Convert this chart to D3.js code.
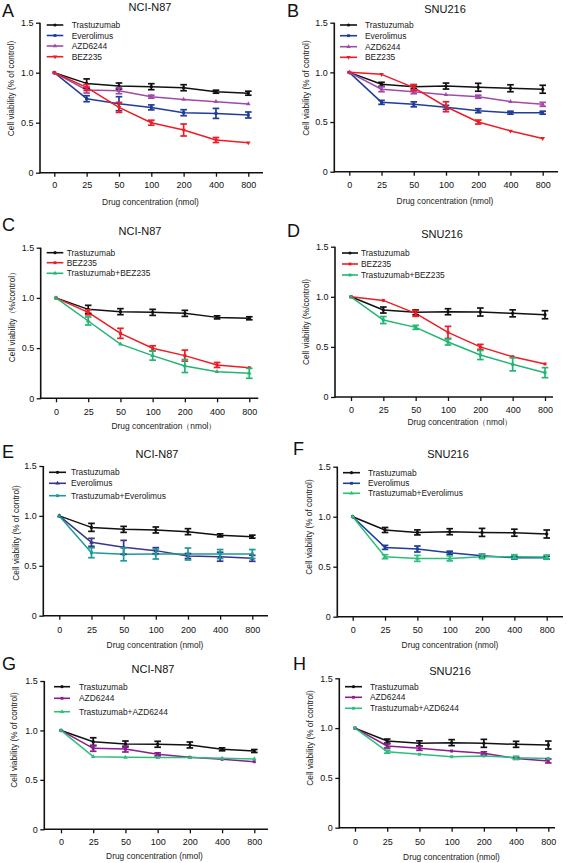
<!DOCTYPE html>
<html><head><meta charset="utf-8">
<script src="https://cdn.jsdelivr.net/npm/d3@7"></script>
<style>
html,body{margin:0;padding:0;background:#fff;}
svg{display:block;font-family:"Liberation Sans",Arial,Helvetica,sans-serif;}
</style></head>
<body><svg id="chart" width="567" height="863"></svg>
<script>
// ---------- DATA ----------
const concentrations = ["0","25","50","100","200","400","800"];
const yTicks = [0, 0.5, 1.0, 1.5];
const yTickLabels = ["0","0.5","1.0","1.5"];
const panelLetters = ["A","B","C","D","E","F","G","H"];
const panelTitles = ["NCI-N87","SNU216","NCI-N87","SNU216","NCI-N87","SNU216","NCI-N87","SNU216"];
const xTitles = ["Drug concentration (nmol)","Drug concentration (nmol)","Drug concentration（nmol）","Drug concentration（nmol）",
  "Drug concentration (nmol)","Drug concentration (nmol)","Drug concentration (nmol)","Drug concentration (nmol)"];
const yTitles = ["Cell viability (% of control)","Cell viability (% of control)","Cell viability（%/control）","Cell viability (%/control)",
  "Cell viability (% of control)","Cell viability (% of control)","Cell viability (% of control)","Cell viability (% of control)"];

// Panel A (NCI-N87)
const A_tras = [1, 0.893, 0.867, 0.86, 0.85, 0.81, 0.795];
const A_trasErr = [0, 0.045, 0.03, 0.03, 0.03, 0.015, 0.02];
const A_eve = [1, 0.74, 0.69, 0.653, 0.6, 0.593, 0.577];
const A_eveErr = [0, 0.03, 0.07, 0.025, 0.03, 0.05, 0.03];
const A_azd = [1, 0.827, 0.82, 0.76, 0.733, 0.71, 0.687];
const A_azdErr = [0, 0.03, 0.03, 0.015, 0, 0, 0];
const A_bez = [1, 0.853, 0.653, 0.5, 0.427, 0.327, 0.3];
const A_bezErr = [0, 0.03, 0.05, 0.025, 0.06, 0.025, 0];
// Panel B (SNU216)
const B_tras = [1, 0.88, 0.856, 0.862, 0.85, 0.84, 0.83];
const B_trasErr = [0, 0.02, 0.02, 0.03, 0.04, 0.035, 0.04];
const B_eve = [1, 0.698, 0.678, 0.648, 0.614, 0.594, 0.594];
const B_eveErr = [0, 0.02, 0.025, 0.02, 0.02, 0.015, 0.015];
const B_azd = [1, 0.83, 0.805, 0.775, 0.755, 0.705, 0.678];
const B_azdErr = [0, 0.025, 0.02, 0, 0.015, 0, 0.02];
const B_bez = [1, 0.98, 0.846, 0.654, 0.5, 0.41, 0.335];
const B_bezErr = [0, 0, 0.03, 0.05, 0.02, 0, 0];
// Panel C
const C_tras = [1, 0.886, 0.863, 0.856, 0.846, 0.806, 0.797];
const C_trasErr = [0, 0.04, 0.03, 0.03, 0.03, 0.015, 0.015];
const C_bez = [1, 0.856, 0.647, 0.498, 0.425, 0.332, 0.305];
const C_bezErr = [0, 0.025, 0.05, 0.025, 0.055, 0.025, 0];
const C_combo = [1, 0.77, 0.54, 0.425, 0.322, 0.265, 0.249];
const C_comboErr = [0, 0.04, 0, 0.045, 0.065, 0, 0.05];
// Panel D
const D_tras = [1, 0.868, 0.845, 0.851, 0.848, 0.835, 0.821];
const D_trasErr = [0, 0.03, 0.025, 0.03, 0.04, 0.035, 0.04];
const D_bez = [1, 0.964, 0.835, 0.645, 0.5, 0.402, 0.33];
const D_bezErr = [0, 0, 0.03, 0.06, 0.025, 0, 0];
const D_combo = [1, 0.768, 0.695, 0.549, 0.419, 0.326, 0.243];
const D_comboErr = [0, 0.035, 0.02, 0.03, 0.045, 0.065, 0.05];
// Panel E
const E_tras = [1, 0.885, 0.865, 0.859, 0.842, 0.805, 0.792];
const E_trasErr = [0, 0.04, 0.03, 0.03, 0.03, 0.015, 0.015];
const E_eve = [1, 0.735, 0.685, 0.652, 0.598, 0.591, 0.575];
const E_eveErr = [0, 0.04, 0.07, 0.03, 0.025, 0.045, 0.03];
const E_combo = [1, 0.631, 0.615, 0.618, 0.618, 0.618, 0.618];
const E_comboErr = [0, 0.05, 0.065, 0.05, 0.06, 0.045, 0.045];
// Panel F
const F_tras = [1, 0.867, 0.843, 0.85, 0.843, 0.84, 0.827];
const F_trasErr = [0, 0.025, 0.025, 0.03, 0.04, 0.035, 0.04];
const F_eve = [1, 0.693, 0.677, 0.64, 0.61, 0.59, 0.59];
const F_eveErr = [0, 0.02, 0.03, 0.015, 0.015, 0.015, 0.015];
const F_combo = [1, 0.6, 0.583, 0.583, 0.6, 0.6, 0.597];
const F_comboErr = [0, 0.02, 0.03, 0.025, 0.02, 0.02, 0.02];
// Panel G
const G_tras = [1, 0.886, 0.863, 0.86, 0.853, 0.809, 0.792];
const G_trasErr = [0, 0.04, 0.03, 0.03, 0.03, 0.015, 0.015];
const G_azd = [1, 0.819, 0.812, 0.758, 0.728, 0.708, 0.684];
const G_azdErr = [0, 0.03, 0.03, 0.015, 0, 0, 0];
const G_combo = [1, 0.735, 0.728, 0.725, 0.725, 0.718, 0.711];
const G_comboErr = [0, 0, 0, 0, 0, 0, 0];
// Panel H
const H_tras = [1, 0.87, 0.847, 0.854, 0.847, 0.837, 0.83];
const H_trasErr = [0, 0.02, 0.025, 0.03, 0.04, 0.03, 0.04];
const H_azd = [1, 0.82, 0.797, 0.77, 0.747, 0.696, 0.67];
const H_azdErr = [0, 0.02, 0.02, 0, 0.015, 0.01, 0.02];
const H_combo = [1, 0.763, 0.737, 0.713, 0.72, 0.703, 0.696];
const H_comboErr = [0, 0.015, 0, 0, 0, 0.015, 0];

// ---------- STYLE / LAYOUT ----------
const COL = {
  black:"#111111", blue:"#1f3d99", navy:"#3b3488", purpleA:"#a24aa8", purple:"#8c1d8c",
  red:"#ee1c25", green:"#22b573", teal:"#1a9a98", green2:"#2cbf7c"
};
const SYM = {dot:d3.symbolCircle, sq:d3.symbolSquare, tri:d3.symbolTriangle, tri2:d3.symbolTriangle};

const panels = [
  {L:{ax:40, y0:172.7, y15:22.7, x0:54.3, x1:248.3, xEnd:263, tickY:188, xtY:205, xtX:150.5, ytX:11, ytY:88.5,
      lx:2, ly:17, tX:150, tY:11, lg0:46.7, lg1:63.3, lgT:71.7, rows:[25,35.5,46,56.7]},
   S:[{n:"Trastuzumab",v:A_tras,e:A_trasErr,c:COL.black,s:"dot"},
      {n:"Everolimus",v:A_eve,e:A_eveErr,c:COL.blue,s:"sq"},
      {n:"AZD6244",v:A_azd,e:A_azdErr,c:COL.purpleA,s:"tri"},
      {n:"BEZ235",v:A_bez,e:A_bezErr,c:COL.red,s:"tri2"}]},
  {L:{ax:334.3, y0:171.7, y15:22.7, x0:349.3, x1:542.7, xEnd:558, tickY:188, xtY:204, xtX:445, ytX:306, ytY:88,
      lx:287, ly:17, tX:445, tY:12.5, lg0:340, lg1:357, lgT:365, rows:[25,35.7,46.7,57.3]},
   S:[{n:"Trastuzumab",v:B_tras,e:B_trasErr,c:COL.black,s:"dot"},
      {n:"Everolimus",v:B_eve,e:B_eveErr,c:COL.blue,s:"sq"},
      {n:"AZD6244",v:B_azd,e:B_azdErr,c:COL.purpleA,s:"tri"},
      {n:"BEZ235",v:B_bez,e:B_bezErr,c:COL.red,s:"tri2"}]},
  {L:{ax:40.7, y0:398.3, y15:247.7, x0:56, x1:249.3, xEnd:258.3, tickY:415, xtY:428.5, xtX:164, ytX:12, ytY:315,
      lx:2, ly:231, tX:140, tY:235, lg0:46.7, lg1:63.3, lgT:66.7, rows:[252.7,262.7,273.3]},
   S:[{n:"Trastuzumab",v:C_tras,e:C_trasErr,c:COL.black,s:"dot"},
      {n:"BEZ235",v:C_bez,e:C_bezErr,c:COL.red,s:"sq"},
      {n:"Trastuzumab+BEZ235",v:C_combo,e:C_comboErr,c:COL.green,s:"tri"}]},
  {L:{ax:335, y0:397, y15:246.7, x0:351, x1:545, xEnd:553, tickY:413.5, xtY:424.5, xtX:460, ytX:305.5, ytY:322,
      lx:287, ly:237, tX:442, tY:238, lg0:342, lg1:358, lgT:361, rows:[253,264,275]},
   S:[{n:"Trastuzumab",v:D_tras,e:D_trasErr,c:COL.black,s:"dot"},
      {n:"BEZ235",v:D_bez,e:D_bezErr,c:COL.red,s:"sq"},
      {n:"Trastuzumab+BEZ235",v:D_combo,e:D_comboErr,c:COL.green,s:"sq"}]},
  {L:{ax:43.3, y0:615.7, y15:466, x0:59.3, x1:252.3, xEnd:268, tickY:633, xtY:648, xtX:155, ytX:16, ytY:533,
      lx:2, ly:458, tX:157, tY:458, lg0:49, lg1:66, lgT:71, rows:[472.3,483.3,495.7]},
   S:[{n:"Trastuzumab",v:E_tras,e:E_trasErr,c:COL.black,s:"dot"},
      {n:"Everolimus",v:E_eve,e:E_eveErr,c:COL.navy,s:"tri"},
      {n:"Trastuzumab+Everolimus",v:E_combo,e:E_comboErr,c:COL.teal,s:"sq"}]},
  {L:{ax:337.3, y0:616.7, y15:466.7, x0:352.7, x1:546.7, xEnd:563, tickY:633, xtY:648, xtX:450, ytX:309, ytY:527,
      lx:293, ly:455, tX:448, tY:458, lg0:343, lg1:360, lgT:368, rows:[472.7,483.3,493.3]},
   S:[{n:"Trastuzumab",v:F_tras,e:F_trasErr,c:COL.black,s:"dot"},
      {n:"Everolimus",v:F_eve,e:F_eveErr,c:COL.blue,s:"sq"},
      {n:"Trastuzumab+Everolimus",v:F_combo,e:F_comboErr,c:COL.green2,s:"tri"}]},
  {L:{ax:44.3, y0:829.3, y15:681, x0:61, x1:254.3, xEnd:268, tickY:845, xtY:859, xtX:154.5, ytX:14, ytY:740,
      lx:2, ly:670, tX:153, tY:673, lg0:54, lg1:70, lgT:79, rows:[686.7,698.3,711.7]},
   S:[{n:"Trastuzumab",v:G_tras,e:G_trasErr,c:COL.black,s:"dot"},
      {n:"AZD6244",v:G_azd,e:G_azdErr,c:COL.purple,s:"sq"},
      {n:"Trastuzumab+AZD6244",v:G_combo,e:G_comboErr,c:COL.green2,s:"tri"}]},
  {L:{ax:339.3, y0:827.7, y15:678.3, x0:355, x1:548.3, xEnd:555, tickY:845, xtY:860, xtX:451.5, ytX:310, ytY:738,
      lx:293, ly:670, tX:450, tY:675, lg0:345, lg1:362, lgT:370, rows:[686.7,697.3,708.3]},
   S:[{n:"Trastuzumab",v:H_tras,e:H_trasErr,c:COL.black,s:"dot"},
      {n:"AZD6244",v:H_azd,e:H_azdErr,c:COL.purple,s:"sq"},
      {n:"Trastuzumab+AZD6244",v:H_combo,e:H_comboErr,c:COL.green2,s:"sq"}]}
];

const svg = d3.select("#chart");

panels.forEach((p, i) => {
  const L = p.L;
  const g = svg.append("g");
  const x = d3.scalePoint().domain(concentrations).range([L.x0, L.x1]);
  const y = d3.scaleLinear().domain([0, 1.5]).range([L.y0, L.y15]);

  // axes
  const yAx = g.append("g").attr("transform", `translate(${L.ax},0)`)
    .call(d3.axisLeft(y).tickValues(yTicks).tickFormat((d, k) => yTickLabels[k]).tickSize(4).tickPadding(2.5).tickSizeOuter(0));
  const xAx = g.append("g").attr("transform", `translate(0,${L.y0})`)
    .call(d3.axisBottom(x).tickSize(4).tickPadding(L.tickY - L.y0 - 10.5).tickSizeOuter(0));
  [yAx, xAx].forEach(a => {
    a.select(".domain").remove();
    a.selectAll(".tick line").attr("stroke", "#111").attr("stroke-width", 1.3);
    a.selectAll(".tick text").attr("fill", "#111").style("font-size", "9px")
      .style("font-family", '"Liberation Sans",Arial,sans-serif');
  });
  g.append("line").attr("x1", L.ax).attr("x2", L.ax).attr("y1", y(0) + 0.8).attr("y2", y(1.5))
    .attr("stroke", "#111").attr("stroke-width", 1.6);
  g.append("line").attr("x1", L.ax).attr("x2", L.xEnd).attr("y1", y(0)).attr("y2", y(0))
    .attr("stroke", "#111").attr("stroke-width", 1.6);

  // titles
  g.append("text").attr("x", L.lx).attr("y", L.ly).text(panelLetters[i])
    .style("font-size", "18px").attr("fill", "#111");
  g.append("text").attr("x", L.tX).attr("y", L.tY).attr("text-anchor", "middle").text(panelTitles[i])
    .style("font-size", "11px").attr("fill", "#111");
  g.append("text").attr("x", L.xtX).attr("y", L.xtY).attr("text-anchor", "middle").text(xTitles[i])
    .style("font-size", "8.4px").attr("fill", "#222");
  g.append("text").attr("transform", `translate(${L.ytX},${L.ytY}) rotate(-90)`)
    .attr("text-anchor", "middle").attr("dominant-baseline", "central").text(yTitles[i])
    .style("font-size", "8.3px").attr("fill", "#222");

  // series lines
  const line = d3.line().x((d, k) => x(concentrations[k])).y(d => y(d));
  p.S.forEach(s => {
    g.append("path").datum(s.v).attr("d", line).attr("fill", "none")
      .attr("stroke", s.c).attr("stroke-width", 1.5).attr("stroke-linejoin", "round");
  });
  // error bars + markers
  p.S.forEach(s => {
    const eg = g.append("g").attr("stroke", s.c).attr("stroke-width", 1.7).attr("fill", "none");
    s.v.forEach((v, k) => {
      const e = s.e[k];
      if (!e) return;
      const cx = x(concentrations[k]);
      eg.append("line").attr("x1", cx).attr("x2", cx).attr("y1", y(v - e)).attr("y2", y(v + e));
      eg.append("line").attr("x1", cx - 3.3).attr("x2", cx + 3.3).attr("y1", y(v - e)).attr("y2", y(v - e));
      eg.append("line").attr("x1", cx - 3.3).attr("x2", cx + 3.3).attr("y1", y(v + e)).attr("y2", y(v + e));
    });
    const sym = d3.symbol().type(SYM[s.s]).size(9);
    g.append("g").selectAll("path").data(s.v).join("path")
      .attr("transform", (d, k) => `translate(${x(concentrations[k])},${y(d)})${s.s === "tri2" ? " rotate(180)" : ""}`)
      .attr("d", sym).attr("fill", s.c);
  });

  // legend
  p.S.forEach((s, k) => {
    const ry = L.rows[k];
    g.append("line").attr("x1", L.lg0).attr("x2", L.lg1).attr("y1", ry).attr("y2", ry)
      .attr("stroke", s.c).attr("stroke-width", 1.6);
    g.append("path").attr("transform", `translate(${(L.lg0 + L.lg1) / 2},${ry})${s.s === "tri2" ? " rotate(180)" : ""}`)
      .attr("d", d3.symbol().type(SYM[s.s]).size(8)).attr("fill", s.c);
    g.append("text").attr("x", L.lgT).attr("y", ry).attr("dominant-baseline", "central")
      .text(s.n).style("font-size", "8.4px").attr("fill", "#222");
  });
});
</script>
</body></html>
